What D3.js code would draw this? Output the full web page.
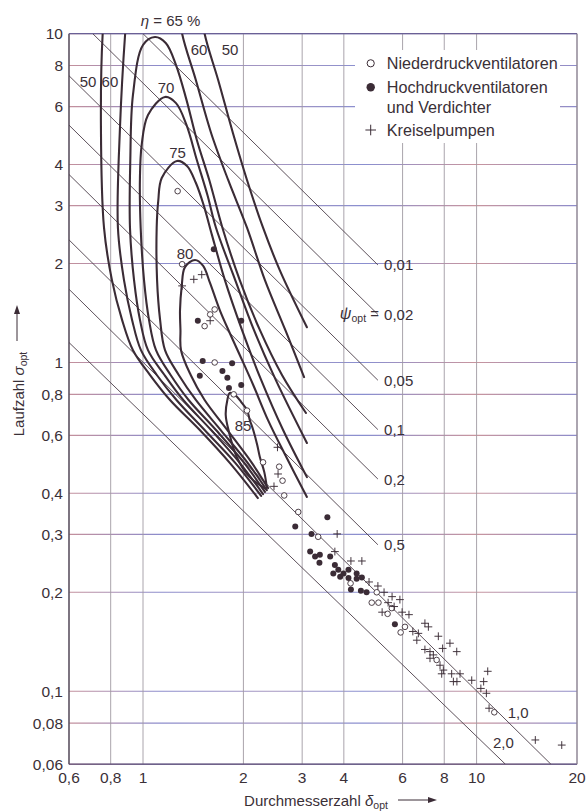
<!DOCTYPE html>
<html>
<head>
<meta charset="utf-8">
<script src="https://cdn.jsdelivr.net/npm/d3@7"></script>
<style>
body { margin: 0; background: #fff; }
text { font-family: "Liberation Sans", Arial, sans-serif; fill: #3a3037; }
</style>
</head>
<body>
<div id="chart"></div>
<script>
// axis ticks
var xTicks = [0.6, 0.8, 1, 2, 3, 4, 6, 8, 10, 20];
var xTickLabels = ["0,6", "0,8", "1", "2", "3", "4", "6", "8", "10", "20"];
var yTicks = [0.06, 0.08, 0.1, 0.2, 0.3, 0.4, 0.6, 0.8, 1, 2, 3, 4, 6, 8, 10];
var yTickLabels = ["0,06", "0,08", "0,1", "0,2", "0,3", "0,4", "0,6", "0,8", "1", "2", "3", "4", "6", "8", "10"];

// efficiency curves eta, points as [delta, sigma]
var eta50 = [[2.21,0.387],[1.82,0.495],[1.48,0.623],[1.205,0.769],[1.05,0.916],[0.933,1.09],[0.865,1.35],[0.807,1.78],[0.764,2.57],[0.748,5.17],[0.757,10],[0.774,12.7],[1.086,16.8],[1.48,12.7],[1.53,10],[1.68,7.23],[1.86,4.99],[2.05,3.59],[2.29,2.57],[2.57,1.91],[3.10,1.28]];
var eta60 = [[2.26,0.393],[1.89,0.495],[1.53,0.623],[1.26,0.769],[1.10,0.916],[0.986,1.09],[0.927,1.35],[0.877,1.78],[0.841,2.57],[0.853,5.17],[0.884,10],[0.902,12.7],[1.086,15.1],[1.27,12.7],[1.31,10],[1.44,7.23],[1.60,4.99],[1.80,3.59],[2.05,2.57],[2.32,1.78],[2.67,1.256],[3.04,0.903]];
var eta65 = [[2.29,0.398],[1.95,0.495],[1.60,0.623],[1.32,0.769],[1.16,0.916],[1.035,1.09],[0.979,1.35],[0.940,1.78],[0.914,2.57],[0.916,4.10],[0.933,6.51],[1.0,9.24],[1.086,9.77],[1.17,9.37],[1.256,8.03],[1.35,6.29],[1.45,4.75],[1.58,3.59],[1.73,2.57],[1.95,1.78],[2.24,1.256],[2.61,0.916],[3.08,0.702]];
var eta70 = [[2.32,0.404],[2.01,0.495],[1.655,0.623],[1.37,0.769],[1.21,0.916],[1.094,1.09],[1.042,1.35],[1.007,1.78],[0.984,2.57],[0.979,3.64],[0.991,4.59],[1.035,5.66],[1.164,6.42],[1.256,6.15],[1.35,5.28],[1.45,4.13],[1.56,3.23],[1.655,2.57],[1.89,1.78],[2.15,1.256],[2.50,0.885],[3.10,0.569]];
var eta75 = [[2.35,0.409],[2.06,0.495],[1.71,0.623],[1.44,0.769],[1.28,0.916],[1.164,1.09],[1.125,1.35],[1.102,1.78],[1.099,2.57],[1.111,3.10],[1.138,3.64],[1.264,4.10],[1.355,3.96],[1.44,3.52],[1.52,3.01],[1.61,2.44],[1.76,1.78],[1.98,1.256],[2.26,0.885],[2.63,0.623],[3.10,0.448]];
var eta80 = [[2.37,0.415],[2.12,0.495],[1.79,0.623],[1.53,0.769],[1.39,0.916],[1.30,1.09],[1.295,1.256],[1.291,1.44],[1.306,1.70],[1.336,1.95],[1.432,2.05],[1.513,1.97],[1.588,1.745],[1.70,1.44],[1.82,1.229],[1.95,1.054],[2.14,0.854],[2.37,0.668],[2.67,0.523],[3.10,0.390]];
var eta85 = [[2.34,0.412],[2.09,0.448],[1.91,0.516],[1.81,0.615],[1.77,0.692],[1.79,0.769],[1.82,0.808],[1.89,0.796],[1.97,0.758],[2.05,0.717],[2.09,0.668],[2.14,0.623],[2.20,0.561],[2.24,0.516],[2.31,0.464],[2.35,0.418]];

// curve labels [text, delta, sigma]
var etaLabels = [["70",1.172,6.84],["75",1.269,4.34],["80",1.336,2.15],["85",1.995,0.645],
                 ["60",1.472,8.98],["50",1.823,8.98],["50",0.684,7.18],["60",0.796,7.18]];

// psi_opt lines: start / end points and label anchors
var psiLabels = ["0,01", "0,02", "0,05", "0,1", "0,2", "0,5", "1,0", "2,0"];
var psiStart = [[1.0,10],[0.707,10],[0.6,7.45],[0.6,5.27],[0.6,3.73],[0.6,2.36],[0.6,1.67],[0.6,1.15]];
var psiEnd = [[5.06,1.98],[5.06,1.40],[5.06,0.883],[5.06,0.625],[5.06,0.442],[5.06,0.279],[16.7,0.06],[12.2,0.06]];
var psiLabelAt = [[5.28,1.98],[5.28,1.40],[5.28,0.883],[5.28,0.625],[5.28,0.442],[5.28,0.279],[12.4,0.0859],[11.2,0.0697]];

// measured machines
var niederdruck = [[1.27,3.32],[1.31,1.99],[1.64,1.45],[1.59,1.40],[1.53,1.29],[1.64,1.00],[1.87,0.80],[2.05,0.714],[2.29,0.497],[2.56,0.482],[2.62,0.437],[2.65,0.394],[2.92,0.351],[3.35,0.295],[4.19,0.213],[4.85,0.186],[5.08,0.186],[5.02,0.200],[5.41,0.172],[5.57,0.179],[6.10,0.157],[5.92,0.151],[7.59,0.1245],[11.3,0.0863]];
var hochdruck = [[1.63,2.21],[1.46,1.34],[1.97,1.34],[1.51,1.01],[1.85,0.995],[1.48,0.912],[1.73,0.942],[1.79,0.899],[1.81,0.836],[1.97,0.854],[3.57,0.338],[2.86,0.317],[3.20,0.301],[3.17,0.266],[3.28,0.257],[3.39,0.260],[3.38,0.246],[3.64,0.257],[3.76,0.242],[3.72,0.228],[3.85,0.234],[3.90,0.223],[3.99,0.228],[4.13,0.234],[4.13,0.221],[4.37,0.228],[4.37,0.220],[4.53,0.222],[4.20,0.204],[4.50,0.202],[4.68,0.200],[5.69,0.160]];
var pumpen = [[1.31,1.71],[1.42,1.79],[1.50,1.85],[1.59,1.34],[2.53,0.552],[2.54,0.458],[2.47,0.420],[3.82,0.301],[3.76,0.266],[4.20,0.249],[4.53,0.249],[4.76,0.215],[5.06,0.209],[5.28,0.200],[5.58,0.194],[5.89,0.190],[5.43,0.186],[5.21,0.174],[5.66,0.181],[5.98,0.174],[6.27,0.171],[7.00,0.161],[7.17,0.157],[6.44,0.152],[6.69,0.150],[6.62,0.143],[7.68,0.147],[8.32,0.140],[7.91,0.135],[8.72,0.132],[7.00,0.134],[7.25,0.132],[7.42,0.129],[7.25,0.126],[7.77,0.120],[7.95,0.116],[7.86,0.113],[8.42,0.113],[8.92,0.113],[8.52,0.107],[8.73,0.107],[9.67,0.108],[10.8,0.115],[10.5,0.107],[10.3,0.102],[10.7,0.0986],[10.9,0.0888],[15.0,0.0711],[18.0,0.0686]];

var svgWidth = 587, svgHeight = 812;
var ink = "#3b2c36";

var svg = d3.select("#chart").append("svg")
    .attr("width", svgWidth)
    .attr("height", svgHeight);

var xScale = d3.scaleLog().domain([0.6, 20]).range([69, 577]);
var yScale = d3.scaleLog().domain([0.06, 10]).range([764.2, 33.7]);
var x0 = xScale.range()[0], x1 = xScale.range()[1];
var yTop = yScale.range()[1], yBot = yScale.range()[0];

var defs = svg.append("defs");
defs.append("clipPath").attr("id", "plot")
  .append("rect")
    .attr("x", x0).attr("y", yTop)
    .attr("width", x1 - x0).attr("height", yBot - yTop);

// print-like coloured grid lines (blue / red misregistration)
var grad = defs.append("linearGradient").attr("id", "hgrad")
    .attr("gradientUnits", "userSpaceOnUse")
    .attr("x1", x0).attr("x2", x1).attr("y1", 0).attr("y2", 0);
[["0", "#c4909c"], ["0.18", "#8c8ccc"], ["0.4", "#a596c0"], ["0.58", "#8a8fd0"], ["0.8", "#c8959e"], ["1", "#8d8ccb"]]
  .forEach(function(s) { grad.append("stop").attr("offset", s[0]).attr("stop-color", s[1]); });

// grid
svg.append("g").selectAll("line")
  .data(yTicks).enter().append("line")
    .attr("x1", x0).attr("x2", x1)
    .attr("y1", function(d) { return yScale(d); })
    .attr("y2", function(d) { return yScale(d); })
    .attr("stroke", "url(#hgrad)")
    .attr("stroke-width", 1.1);

svg.append("g").selectAll("line")
  .data(xTicks).enter().append("line")
    .attr("x1", function(d) { return xScale(d); })
    .attr("x2", function(d) { return xScale(d); })
    .attr("y1", yTop).attr("y2", yBot)
    .attr("stroke", "#a09aa3")
    .attr("stroke-width", 0.9);

// frame
svg.append("line").attr("x1", x0).attr("x2", x0).attr("y1", yTop).attr("y2", yBot)
    .attr("stroke", "#4e4352").attr("stroke-width", 1.3);
svg.append("line").attr("x1", x0).attr("x2", x1).attr("y1", yBot).attr("y2", yBot)
    .attr("stroke", "#5a4a72").attr("stroke-width", 1.3);
svg.append("line").attr("x1", x0).attr("x2", x1).attr("y1", yTop).attr("y2", yTop)
    .attr("stroke", "#6a6096").attr("stroke-width", 1.2);
svg.append("line").attr("x1", x1).attr("x2", x1).attr("y1", yTop).attr("y2", yBot)
    .attr("stroke", "#8a8092").attr("stroke-width", 1.1);

// legend background hides grid
svg.append("rect").attr("x", 355).attr("y", 50).attr("width", 205).attr("height", 93).attr("fill", "#fff");

var plot = svg.append("g").attr("clip-path", "url(#plot)");

// psi lines
plot.selectAll(".psi")
  .data(psiLabels).enter().append("line")
    .attr("class", "psi")
    .attr("x1", function(d, i) { return xScale(psiStart[i][0]); })
    .attr("y1", function(d, i) { return yScale(psiStart[i][1]); })
    .attr("x2", function(d, i) { return xScale(psiEnd[i][0]); })
    .attr("y2", function(d, i) { return yScale(psiEnd[i][1]); })
    .attr("stroke", "#4b3d48")
    .attr("stroke-width", 0.9);

// efficiency curves
var etaLine = d3.line()
    .x(function(d) { return xScale(d[0]); })
    .y(function(d) { return yScale(d[1]); })
    .curve(d3.curveCatmullRom.alpha(0.5));

plot.selectAll(".eta")
  .data([eta50, eta60, eta65, eta70, eta75, eta80, eta85]).enter().append("path")
    .attr("class", "eta")
    .attr("d", etaLine)
    .attr("fill", "none")
    .attr("stroke", ink)
    .attr("stroke-width", 2.1)
    .attr("stroke-linecap", "round");

// points
plot.selectAll(".nd")
  .data(niederdruck).enter().append("circle")
    .attr("cx", function(d) { return xScale(d[0]); })
    .attr("cy", function(d) { return yScale(d[1]); })
    .attr("r", 2.8)
    .attr("fill", "#fff")
    .attr("stroke", ink)
    .attr("stroke-width", 0.9);

plot.selectAll(".hd")
  .data(hochdruck).enter().append("circle")
    .attr("cx", function(d) { return xScale(d[0]); })
    .attr("cy", function(d) { return yScale(d[1]); })
    .attr("r", 3.0)
    .attr("fill", ink);

plot.selectAll(".kp")
  .data(pumpen).enter().append("path")
    .attr("d", "M-3.9,0H3.9M0,-3.9V3.9")
    .attr("transform", function(d) { return "translate(" + xScale(d[0]) + "," + yScale(d[1]) + ")"; })
    .attr("stroke", ink)
    .attr("stroke-width", 0.95);

// eta labels
svg.append("g").selectAll("text")
  .data(etaLabels).enter().append("text")
    .attr("x", function(d) { return xScale(d[1]); })
    .attr("y", function(d) { return yScale(d[2]); })
    .attr("text-anchor", "middle")
    .attr("dominant-baseline", "central")
    .style("font-size", "15px")
    .text(function(d) { return d[0]; });

var etaTitle = svg.append("text")
    .attr("x", xScale(1.21)).attr("y", 26)
    .attr("text-anchor", "middle")
    .style("font-size", "15px");
etaTitle.append("tspan").style("font-style", "italic").text("η");
etaTitle.append("tspan").text(" = 65 %");

// psi labels
svg.append("g").selectAll("text")
  .data(psiLabels).enter().append("text")
    .attr("x", function(d, i) { return xScale(psiLabelAt[i][0]); })
    .attr("y", function(d, i) { return yScale(psiLabelAt[i][1]); })
    .attr("dominant-baseline", "central")
    .style("font-size", "15px")
    .text(function(d) { return d; });

var psiName = svg.append("text")
    .attr("x", xScale(psiLabelAt[1][0]) - 5)
    .attr("y", yScale(psiLabelAt[1][1]) + 5)
    .attr("text-anchor", "end")
    .style("font-size", "15px");
psiName.append("tspan").style("font-style", "italic").style("font-size", "16px").text("ψ");
psiName.append("tspan").attr("dy", 3).style("font-size", "10.5px").text("opt");
psiName.append("tspan").attr("dy", -3).text(" =");

// tick labels
svg.append("g").selectAll("text")
  .data(yTicks).enter().append("text")
    .attr("x", x0 - 6)
    .attr("y", function(d) { return yScale(d); })
    .attr("text-anchor", "end")
    .attr("dominant-baseline", "central")
    .style("font-size", "15.5px")
    .text(function(d, i) { return yTickLabels[i]; });

svg.append("g").selectAll("text")
  .data(xTicks).enter().append("text")
    .attr("x", function(d) { return xScale(d); })
    .attr("y", yBot + 19)
    .attr("text-anchor", "middle")
    .style("font-size", "15.5px")
    .text(function(d, i) { return xTickLabels[i]; });

// axis titles
var xTitle = svg.append("text")
    .attr("x", 316).attr("y", 806)
    .attr("text-anchor", "middle")
    .style("font-size", "15px");
xTitle.append("tspan").text("Durchmesserzahl ");
xTitle.append("tspan").style("font-style", "italic").text("δ");
xTitle.append("tspan").attr("dy", 3).style("font-size", "10.5px").text("opt");

svg.append("line").attr("x1", 398).attr("x2", 430).attr("y1", 800).attr("y2", 800)
    .attr("stroke", ink).attr("stroke-width", 1);
svg.append("path").attr("d", "M437,800L428,797L428,803Z").attr("fill", ink);

var yTitle = svg.append("text")
    .attr("transform", "translate(24,394) rotate(-90)")
    .attr("text-anchor", "middle")
    .style("font-size", "15px");
yTitle.append("tspan").text("Laufzahl ");
yTitle.append("tspan").style("font-style", "italic").text("σ");
yTitle.append("tspan").attr("dy", 3).style("font-size", "10.5px").text("opt");

svg.append("line").attr("x1", 17).attr("x2", 17).attr("y1", 341).attr("y2", 313)
    .attr("stroke", ink).attr("stroke-width", 1);
svg.append("path").attr("d", "M17,305L14,314L20,314Z").attr("fill", ink);

// legend
var legend = svg.append("g").style("font-size", "16.2px");
legend.append("circle").attr("cx", 370.7).attr("cy", 63.3).attr("r", 3.6)
    .attr("fill", "#fff").attr("stroke", ink).attr("stroke-width", 1);
legend.append("text").attr("x", 386.7).attr("y", 63.3).attr("dominant-baseline", "central").text("Niederdruckventilatoren");
legend.append("circle").attr("cx", 370.7).attr("cy", 87.3).attr("r", 4.2).attr("fill", ink);
legend.append("text").attr("x", 386.7).attr("y", 87.3).attr("dominant-baseline", "central").text("Hochdruckventilatoren");
legend.append("text").attr("x", 386.7).attr("y", 106.7).attr("dominant-baseline", "central").text("und Verdichter");
legend.append("path").attr("d", "M365.4,130H376M370.7,124.7V135.3")
    .attr("stroke", ink).attr("stroke-width", 1);
legend.append("text").attr("x", 386.7).attr("y", 130).attr("dominant-baseline", "central").text("Kreiselpumpen");
</script>
</body>
</html>
